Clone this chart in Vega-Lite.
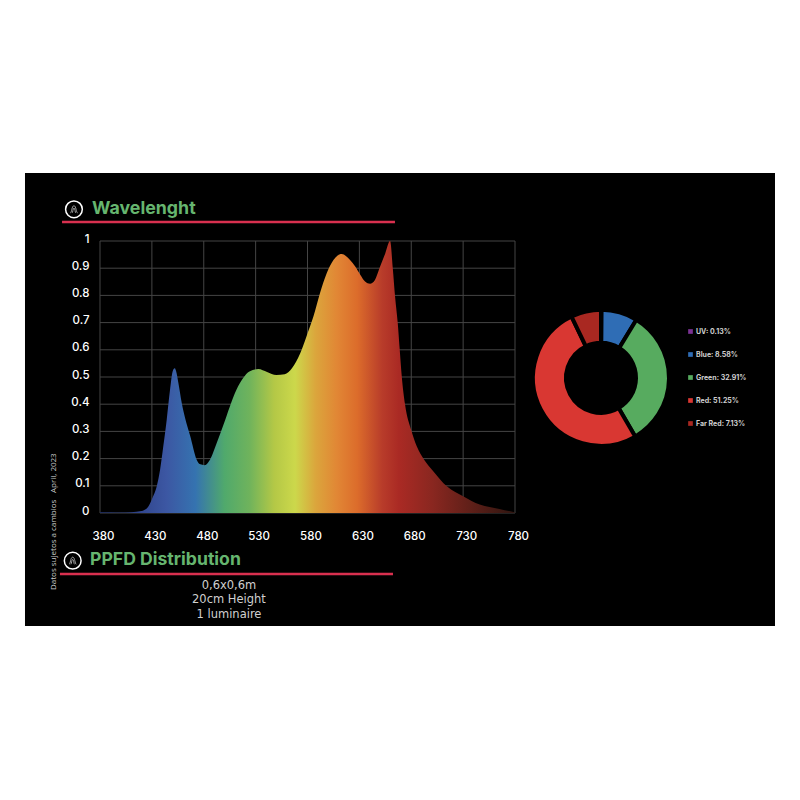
{
  "$schema": "https://vega.github.io/schema/vega-lite/v6.json",
  "width": 415,
  "height": 272,
  "autosize": {"type": "none"},
  "padding": {"left": 100, "top": 241, "right": 285, "bottom": 287},
  "background": "#ffffff",
  "view": {"stroke": null},
  "datasets": {
    "spectrum": [
      {"nm": 380, "irradiance": 0.004}, {"nm": 390, "irradiance": 0.003}, {"nm": 400, "irradiance": 0.002},
      {"nm": 410, "irradiance": 0.003}, {"nm": 420, "irradiance": 0.007}, {"nm": 426.6, "irradiance": 0.024},
      {"nm": 430.5, "irradiance": 0.055}, {"nm": 434.7, "irradiance": 0.098}, {"nm": 437.9, "irradiance": 0.159},
      {"nm": 441, "irradiance": 0.245}, {"nm": 444.3, "irradiance": 0.343}, {"nm": 447.5, "irradiance": 0.453},
      {"nm": 450, "irradiance": 0.52}, {"nm": 452, "irradiance": 0.532}, {"nm": 453.8, "irradiance": 0.515},
      {"nm": 455.6, "irradiance": 0.477}, {"nm": 458.8, "irradiance": 0.404}, {"nm": 462, "irradiance": 0.349},
      {"nm": 466.8, "irradiance": 0.285}, {"nm": 473.2, "irradiance": 0.196}, {"nm": 476, "irradiance": 0.18},
      {"nm": 481, "irradiance": 0.176}, {"nm": 486, "irradiance": 0.196}, {"nm": 492.5, "irradiance": 0.257},
      {"nm": 499, "irradiance": 0.324}, {"nm": 505, "irradiance": 0.39}, {"nm": 511.5, "irradiance": 0.453},
      {"nm": 518, "irradiance": 0.496}, {"nm": 524, "irradiance": 0.52}, {"nm": 532.6, "irradiance": 0.529},
      {"nm": 541, "irradiance": 0.518}, {"nm": 550, "irradiance": 0.507}, {"nm": 558, "irradiance": 0.51},
      {"nm": 565, "irradiance": 0.532}, {"nm": 573, "irradiance": 0.587}, {"nm": 579, "irradiance": 0.649},
      {"nm": 585.7, "irradiance": 0.722}, {"nm": 592, "irradiance": 0.808}, {"nm": 598.5, "irradiance": 0.881},
      {"nm": 605, "irradiance": 0.93}, {"nm": 613, "irradiance": 0.952}, {"nm": 621, "irradiance": 0.93},
      {"nm": 626, "irradiance": 0.906}, {"nm": 631, "irradiance": 0.875}, {"nm": 635.5, "irradiance": 0.851},
      {"nm": 640.3, "irradiance": 0.843}, {"nm": 645, "irradiance": 0.857}, {"nm": 650, "irradiance": 0.906},
      {"nm": 655, "irradiance": 0.955}, {"nm": 659.6, "irradiance": 1}, {"nm": 662.2, "irradiance": 0.9},
      {"nm": 664.4, "irradiance": 0.796}, {"nm": 667, "irradiance": 0.698}, {"nm": 668.9, "irradiance": 0.6},
      {"nm": 670.9, "irradiance": 0.5}, {"nm": 674, "irradiance": 0.4}, {"nm": 679.9, "irradiance": 0.306},
      {"nm": 685.3, "irradiance": 0.245}, {"nm": 692.4, "irradiance": 0.196}, {"nm": 701.4, "irradiance": 0.153},
      {"nm": 714.3, "irradiance": 0.098}, {"nm": 730.4, "irradiance": 0.061}, {"nm": 746, "irradiance": 0.031},
      {"nm": 765, "irradiance": 0.015}, {"nm": 780, "irradiance": 0.002}
    ],
    "shares": [
      {"band": "UV: 0.13%", "share": 0.13, "seq": 1},
      {"band": "Blue: 8.58%", "share": 8.58, "seq": 2},
      {"band": "Green: 32.91%", "share": 32.91, "seq": 3},
      {"band": "Red: 51.25%", "share": 51.25, "seq": 4},
      {"band": "Far Red: 7.13%", "share": 7.13, "seq": 5}
    ],
    "wavelengths": [
      {"nm": 380}, {"nm": 430}, {"nm": 480}, {"nm": 530}, {"nm": 580}, {"nm": 630}, {"nm": 680}, {"nm": 730}, {"nm": 780}
    ],
    "levels": [
      {"level": 0}, {"level": 0.1}, {"level": 0.2}, {"level": 0.3}, {"level": 0.4}, {"level": 0.5},
      {"level": 0.6}, {"level": 0.7}, {"level": 0.8}, {"level": 0.9}, {"level": 1}
    ]
  },
  "layer": [
    {
      "data": {"values": [{"panel": "background"}]},
      "mark": {"type": "rect", "color": "#000000"},
      "encoding": {
        "x": {
          "datum": 307.7, "type": "quantitative", "scale": {"domain": [380, 780], "nice": false, "zero": false},
          "axis": {
            "title": null, "values": [380, 430, 480, 530, 580, 630, 680, 730, 780], "format": "d",
            "domain": false, "ticks": false, "grid": false, "zindex": 1,
            "labelColor": "#ffffff", "labelFont": "Inter", "labelFontSize": 11.5, "labelFontWeight": 500,
            "labelPadding": 17, "labelOffset": 3, "labelFlush": false, "labelOverlap": false
          }
        },
        "x2": {"datum": 1030.6},
        "y": {
          "datum": -0.4154, "type": "quantitative", "scale": {"domain": [0, 1], "nice": false},
          "axis": {
            "title": null, "values": [0, 0.1, 0.2, 0.3, 0.4, 0.5, 0.6, 0.7, 0.8, 0.9, 1], "tickCount": 11, "format": "~g",
            "domain": false, "ticks": false, "grid": false, "zindex": 1,
            "labelColor": "#ffffff", "labelFont": "Inter", "labelFontSize": 11.5, "labelFontWeight": 500,
            "labelPadding": 11, "labelOffset": -2, "labelFlush": false, "labelOverlap": false
          }
        },
        "y2": {"datum": 1.25}
      }
    },
    {
      "data": {"name": "wavelengths"},
      "mark": {"type": "rule", "color": "#454545", "strokeWidth": 1},
      "encoding": {
        "x": {"field": "nm", "type": "quantitative"},
        "y": {"datum": 0, "type": "quantitative"},
        "y2": {"datum": 1}
      }
    },
    {
      "data": {"name": "levels"},
      "mark": {"type": "rule", "color": "#454545", "strokeWidth": 1},
      "encoding": {
        "y": {"field": "level", "type": "quantitative"},
        "x": {"datum": 380, "type": "quantitative"},
        "x2": {"datum": 780}
      }
    },
    {
      "data": {"name": "spectrum"},
      "mark": {
        "type": "area",
        "interpolate": "monotone",
        "color": {
          "gradient": "linear",
          "x1": 0, "y1": 0, "x2": 1, "y2": 0,
          "stops": [
            {"offset": 0, "color": "#1c2a5c"},
            {"offset": 0.1, "color": "#32478f"},
            {"offset": 0.16, "color": "#3c57a3"},
            {"offset": 0.23, "color": "#3573b0"},
            {"offset": 0.3, "color": "#50a96c"},
            {"offset": 0.36, "color": "#6fb35c"},
            {"offset": 0.42, "color": "#b4c846"},
            {"offset": 0.47, "color": "#ccd84b"},
            {"offset": 0.52, "color": "#dba53c"},
            {"offset": 0.57, "color": "#e18735"},
            {"offset": 0.62, "color": "#dc6c2b"},
            {"offset": 0.68, "color": "#b83c2a"},
            {"offset": 0.72, "color": "#aa2a24"},
            {"offset": 0.8, "color": "#8a2720"},
            {"offset": 0.9, "color": "#5c1f18"},
            {"offset": 1, "color": "#2e1510"}
          ]
        }
      },
      "encoding": {
        "x": {"field": "nm", "type": "quantitative"},
        "y": {"field": "irradiance", "type": "quantitative"}
      }
    },
    {
      "data": {"name": "shares"},
      "mark": {"type": "arc", "innerRadius": 35, "outerRadius": 68, "stroke": "#000000", "strokeWidth": 4},
      "encoding": {
        "x": {"datum": 862.9, "type": "quantitative"},
        "y": {"datum": 0.497, "type": "quantitative"},
        "theta": {"field": "share", "type": "quantitative", "stack": true},
        "order": {"field": "seq", "type": "quantitative"},
        "color": {
          "field": "band",
          "type": "nominal",
          "scale": {
            "domain": ["UV: 0.13%", "Blue: 8.58%", "Green: 32.91%", "Red: 51.25%", "Far Red: 7.13%"],
            "range": ["#7b3294", "#2f6db5", "#57ab5f", "#d93732", "#a92821"]
          },
          "legend": {
            "title": null, "orient": "none", "legendX": 587, "legendY": 87,
            "symbolType": "square", "symbolSize": 22, "symbolStrokeWidth": 0,
            "labelColor": "#cfcfcf", "labelFont": "Inter", "labelFontSize": 7, "labelFontWeight": 700,
            "labelOffset": 2, "rowPadding": 15
          }
        }
      }
    },
    {
      "data": {"values": [{"divider": "Wavelenght"}]},
      "mark": {"type": "rule", "color": "#d9304f", "strokeWidth": 2.5},
      "encoding": {
        "x": {"datum": 343.4, "type": "quantitative"},
        "x2": {"datum": 664.3},
        "y": {"datum": 1.0699, "type": "quantitative"}
      }
    },
    {
      "data": {"values": [{"divider": "PPFD Distribution"}]},
      "mark": {"type": "rule", "color": "#d9304f", "strokeWidth": 2.5},
      "encoding": {
        "x": {"datum": 341.4, "type": "quantitative"},
        "x2": {"datum": 662.4},
        "y": {"datum": -0.2243, "type": "quantitative"}
      }
    },
    {
      "data": {"values": [{"icon": "ring"}]},
      "mark": {"type": "point", "shape": "circle", "filled": false, "size": 280, "color": "#ffffff", "strokeWidth": 1.5, "opacity": 1},
      "encoding": {"x": {"datum": 354.9, "type": "quantitative"}, "y": {"datum": 1.1165, "type": "quantitative"}}
    },
    {
      "data": {"values": [{"icon": "ring"}]},
      "mark": {"type": "point", "shape": "circle", "filled": false, "size": 280, "color": "#ffffff", "strokeWidth": 1.5, "opacity": 1},
      "encoding": {"x": {"datum": 353.7, "type": "quantitative"}, "y": {"datum": -0.1754, "type": "quantitative"}}
    },
    {
      "data": {"values": [{"icon": "glyph"}]},
      "mark": {"type": "point", "shape": "M-.8,.8C-.5,.8 -.5,-.8 0,-.8C.5,-.8 .5,.8 .8,.8M-.4,.8C-.25,.8 -.25,-.3 0,-.3C.25,-.3 .25,.8 .4,.8", "filled": false, "size": 80, "color": "#a0a0a0", "strokeWidth": 1, "opacity": 1},
      "encoding": {"x": {"datum": 354.9, "type": "quantitative"}, "y": {"datum": 1.1165, "type": "quantitative"}}
    },
    {
      "data": {"values": [{"icon": "glyph"}]},
      "mark": {"type": "point", "shape": "M-.8,.8C-.5,.8 -.5,-.8 0,-.8C.5,-.8 .5,.8 .8,.8M-.4,.8C-.25,.8 -.25,-.3 0,-.3C.25,-.3 .25,.8 .4,.8", "filled": false, "size": 80, "color": "#a0a0a0", "strokeWidth": 1, "opacity": 1},
      "encoding": {"x": {"datum": 353.7, "type": "quantitative"}, "y": {"datum": -0.1754, "type": "quantitative"}}
    },
    {
      "data": {"values": [{"label": "Wavelenght"}]},
      "mark": {"type": "text", "align": "left", "baseline": "alphabetic", "font": "Inter", "fontSize": 17.8, "fontWeight": 700, "color": "#66b56f"},
      "encoding": {
        "x": {"datum": 372.3, "type": "quantitative"},
        "y": {"datum": 1.0993, "type": "quantitative"},
        "text": {"field": "label"}
      }
    },
    {
      "data": {"values": [{"label": "PPFD Distribution"}]},
      "mark": {"type": "text", "align": "left", "baseline": "alphabetic", "font": "Inter", "fontSize": 17.6, "fontWeight": 700, "color": "#66b56f"},
      "encoding": {
        "x": {"datum": 370.4, "type": "quantitative"},
        "y": {"datum": -0.1912, "type": "quantitative"},
        "text": {"field": "label"}
      }
    },
    {
      "data": {"values": [{"label": "0,6x0,6m"}]},
      "mark": {"type": "text", "align": "center", "baseline": "middle", "font": "DejaVu Sans", "fontSize": 11.5, "color": "#d0d0d0"},
      "encoding": {
        "x": {"datum": 504.3, "type": "quantitative"},
        "y": {"datum": -0.2684, "type": "quantitative"},
        "text": {"field": "label"}
      }
    },
    {
      "data": {"values": [{"label": "20cm Height"}]},
      "mark": {"type": "text", "align": "center", "baseline": "middle", "font": "DejaVu Sans", "fontSize": 11.5, "color": "#d0d0d0"},
      "encoding": {
        "x": {"datum": 504.3, "type": "quantitative"},
        "y": {"datum": -0.3199, "type": "quantitative"},
        "text": {"field": "label"}
      }
    },
    {
      "data": {"values": [{"label": "1 luminaire"}]},
      "mark": {"type": "text", "align": "center", "baseline": "middle", "font": "DejaVu Sans", "fontSize": 11.5, "color": "#d0d0d0"},
      "encoding": {
        "x": {"datum": 504.3, "type": "quantitative"},
        "y": {"datum": -0.375, "type": "quantitative"},
        "text": {"field": "label"}
      }
    },
    {
      "data": {"values": [{"label": "April, 2023"}]},
      "mark": {"type": "text", "align": "left", "baseline": "middle", "angle": 270, "font": "Open Sans", "fontSize": 8, "color": "#cccccc"},
      "encoding": {
        "x": {"datum": 335.7, "type": "quantitative"},
        "y": {"datum": 0.0735, "type": "quantitative"},
        "text": {"field": "label"}
      }
    },
    {
      "data": {"values": [{"label": "Datos sujetos a cambios"}]},
      "mark": {"type": "text", "align": "left", "baseline": "middle", "angle": 270, "font": "Open Sans", "fontSize": 8, "color": "#cccccc"},
      "encoding": {
        "x": {"datum": 335.7, "type": "quantitative"},
        "y": {"datum": -0.2831, "type": "quantitative"},
        "text": {"field": "label"}
      }
    }
  ]
}
